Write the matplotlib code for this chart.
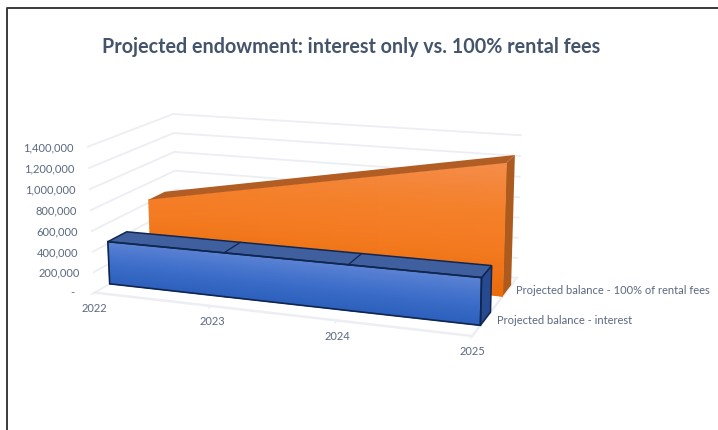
import numpy as np
import matplotlib
matplotlib.use('Agg')
import matplotlib.pyplot as plt
from matplotlib.colors import LinearSegmentedColormap
from matplotlib.patches import Polygon

plt.rcParams['font.family'] = ['Lato', 'DejaVu Sans']

years = ['2022', '2023', '2024', '2025']
value_ticks = [0, 200000, 400000, 600000, 800000, 1000000, 1200000, 1400000]
value_labels = ['-', '200,000', '400,000', '600,000', '800,000', '1,000,000', '1,200,000', '1,400,000']
interest = [420000, 424000, 428000, 432000]
rental = [630000, 840000, 1050000, 1260000]
interest_name = 'Projected balance - interest'
rental_name = 'Projected balance - 100% of rental fees'
title = 'Projected endowment: interest only vs. 100% rental fees'

TEXT = '#5a6880'
GRID = '#eceef3'
LABEL_SIZE = 8.0

# camera: (category, depth, value) -> screen, fitted on the corners of the chart box
box_corners = [
    (0, 0, 0, 95, 292), (0, 0, 1400000, 88, 146),
    (0, 1, 0, 177, 245.5), (0, 1, 1400000, 173, 114),
    (3, 1, 0, 517, 276), (3, 1, 1400000, 521, 136),
    (3, 0, 0, 472, 337), (1, 0, 0, 212, 306), (2, 0, 0, 337, 321),
]
rows = []
for cx, cd, cv, u, v in box_corners:
    p = [cx, cd, cv / 1e6, 1]
    rows.append(p + [0, 0, 0, 0] + [-u * a for a in p])
    rows.append([0, 0, 0, 0] + p + [-v * a for a in p])
camera = np.linalg.svd(np.array(rows))[2][-1].reshape(3, 4)


def project(cat, depth, value):
    cat, depth, value = np.broadcast_arrays(cat, depth, value)
    h = camera @ np.array([cat, depth, value / 1e6, np.ones(cat.shape)], dtype=object).astype(float).reshape(4, -1)
    return (h[0] / h[2]).reshape(cat.shape), (h[1] / h[2]).reshape(cat.shape)


def shaded_face(ax, cats, depths, tops, cmap, vmax, zorder):
    # vertical gradient over a face, from the floor up to the series values
    cats = np.asarray(cats, dtype=float)
    tops = np.asarray(tops, dtype=float)
    frac = np.linspace(0, 1, 16)[:, None]
    vals = frac * tops[None, :]
    x, y = project(cats[None, :] * np.ones_like(vals), depths * np.ones_like(vals), vals)
    ax.pcolormesh(x, y, vals / vmax, shading='gouraud', cmap=cmap, vmin=0, vmax=1, zorder=zorder)


def face_poly(cats, depths, vals):
    return np.column_stack(project(np.asarray(cats, float), np.asarray(depths, float), np.asarray(vals, float)))


fig = plt.figure(figsize=(7.18, 4.30), dpi=100)
ax = fig.add_axes([0, 0, 1, 1])
ax.set_xlim(0, 718)
ax.set_ylim(430, 0)
ax.axis('off')

# outer frame, only top and left
ax.plot([6.5, 6.5, 718], [430, 7.8, 7.8], color='#3a3a3a', lw=1.4, zorder=1)

ax.text(351, 47, title, ha='center', va='center', fontsize=14.25, fontweight='bold', color='#44546a')

# gridlines on the side wall and back wall
last = len(years) - 1
for tick in value_ticks:
    px, py = project(np.array([0, 0, last]), np.array([0, 1, 1]), np.full(3, float(tick)))
    ax.plot(px, py, color=GRID, lw=1.3, zorder=2, solid_joinstyle='round')

# floor front and right edges
px, py = project(np.array([0, last, last]), np.array([0, 0, 1]), np.zeros(3))
ax.plot(px, py, color=GRID, lw=1.8, zorder=2)
for i in range(4):
    tx, ty = project(np.array([i, i]), np.array([0, -0.035]), np.zeros(2))
    ax.plot(tx, ty, color=GRID, lw=1, zorder=2)

# value axis labels follow the front edge of the side wall
for tick, label in zip(value_ticks, value_labels):
    px, py = project(0, 0, float(tick))
    if tick == 0:
        ax.text(float(px) - 22, float(py) - 0.5, label, ha='center', va='center', fontsize=LABEL_SIZE, color=TEXT)
    else:
        ax.text(float(px) - 14, float(py) + 1, label, ha='right', va='center', fontsize=LABEL_SIZE, color=TEXT)

# category labels below the front floor edge
for i, label in enumerate(years):
    px, py = project(i, 0, 0.0)
    ax.text(float(px), float(py) + 15.5, label, ha='center', va='center', fontsize=LABEL_SIZE, color=TEXT)

ax.text(516, 290, rental_name, ha='left', va='center', fontsize=LABEL_SIZE, color=TEXT)
ax.text(497, 320, interest_name, ha='left', va='center', fontsize=LABEL_SIZE, color=TEXT)

cats = np.arange(len(years))
orange_front, orange_back = 0.655, 0.86
blue_front, blue_back = 0.165, 0.38

# rental fees series, drawn first because it stands further back
orange_map = LinearSegmentedColormap.from_list('orange', ['#e96c0c', '#f47a20', '#f4812c', '#f58d4c'])
shaded_face(ax, cats, orange_front, rental, orange_map, max(rental), 4)
side = [(last, orange_front, 0), (last, orange_back, 0), (last, orange_back, rental[-1]), (last, orange_front, rental[-1])]
ax.add_patch(Polygon(face_poly(*zip(*side)), closed=True, fc='#ad5a1e', ec='none', zorder=3))
top = [(c, orange_front, r) for c, r in zip(cats, rental)] + [(c, orange_back, r) for c, r in zip(cats[::-1], rental[::-1])]
ax.add_patch(Polygon(face_poly(*zip(*top)), closed=True, fc='#b15d24', ec='none', zorder=5))

# interest series in front
blue_map = LinearSegmentedColormap.from_list('blue', ['#2c60bc', '#3e6fca', '#5c83d4'])
shaded_face(ax, cats, blue_front, interest, blue_map, max(interest), 6)
OUTLINE = '#10264f'
side = [(last, blue_front, 0), (last, blue_back, 0), (last, blue_back, interest[-1]), (last, blue_front, interest[-1])]
ax.add_patch(Polygon(face_poly(*zip(*side)), closed=True, fc='#26498f', ec=OUTLINE, lw=1.1, zorder=7))
top = [(c, blue_front, r) for c, r in zip(cats, interest)] + [(c, blue_back, r) for c, r in zip(cats[::-1], interest[::-1])]
ax.add_patch(Polygon(face_poly(*zip(*top)), closed=True, fc='#3f5f9f', ec=OUTLINE, lw=1.1, zorder=7))
front = [(0, blue_front, 0), (last, blue_front, 0)] + [(c, blue_front, r) for c, r in zip(cats[::-1], interest[::-1])]
ax.add_patch(Polygon(face_poly(*zip(*front)), closed=True, fc='none', ec=OUTLINE, lw=1.2, zorder=8))
for c, r in zip(cats[1:-1], interest[1:-1]):
    px, py = project(np.array([c, c]), np.array([blue_front, blue_back]), np.array([r, r], dtype=float))
    ax.plot(px, py, color=OUTLINE, lw=0.9, zorder=8)

fig.savefig('out.png', dpi=100)
